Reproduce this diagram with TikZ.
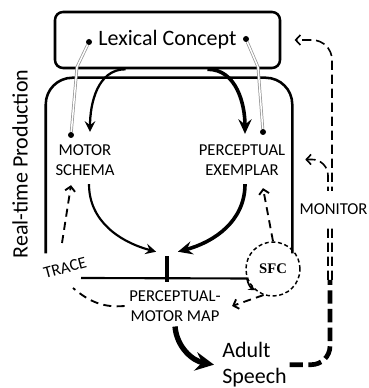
\documentclass[tikz,border=0pt]{standalone}
\usepackage{fontspec}
\setmainfont{Carlito}
\newfontfamily\sfcfont{Liberation Serif}
\usetikzlibrary{arrows.meta}

\begin{document}
\begin{tikzpicture}[x=0.75pt,y=0.75pt,
  big/.style={font=\fontsize{16.5pt}{19.5pt}\selectfont},
  small/.style={font=\fontsize{12.5pt}{15pt}\selectfont,align=center},
  dot/.style={circle,fill,inner sep=0pt,minimum size=4.5pt},
  tie/.style={draw=gray!85,double=white,double distance=1.1pt,line width=0.55pt},
  arr/.style={-{Stealth[length=8pt,width=8pt,inset=3pt]}},
  bigarr/.style={-{Stealth[length=11pt,width=10pt,inset=4pt]}},
  dsh/.style={dash pattern=on 6pt off 4pt,line width=1.4pt},
  mondash/.style={dash pattern=on 7pt off 3.5pt,line width=1.2pt},
  barb/.style={-{Straight Barb[length=3.5pt,width=7.5pt]}}]
\useasboundingbox (0,0) rectangle (368,388);
\node[draw,line width=1.9pt,rounded corners=6pt,minimum width=168.75pt,minimum height=42pt,big] (lex) at (167.5,348) {Lexical Concept};
\node[minimum width=184.5pt,minimum height=131.25pt,inner sep=0pt] (rtp) at (169,222.5) {};
\draw[line width=1.9pt,rounded corners=20pt] (rtp.south west) |- (rtp.north) -| (rtp.south east);
\node[big,rotate=90] (rtplabel) at (20,224) {Real-time Production};
\node[small] (motor) at (85,228) {MOTOR\\SCHEMA};
\node[small] (perc) at (242,228) {PERCEPTUAL\\EXEMPLAR};
\node[small,font=\fontsize{12.5pt}{15.5pt}\selectfont] (map) at (175,82) {PERCEPTUAL-\\MOTOR MAP};
\node[small,rotate=15] (trace) at (65,120) {TRACE};
\node[draw,circle,dash pattern=on 3pt off 2pt,line width=1.1pt,minimum size=40.5pt,inner sep=0pt,font=\sfcfont\bfseries\fontsize{11pt}{13pt}\selectfont] (sfc) at (273,119) {SFC};
\node[fill,minimum width=3.2pt,minimum height=19.5pt,inner sep=0pt] (bar) at (167,119) {};
\node[big,align=left,anchor=north west,inner sep=0pt] (speech) at (222,46) {Adult\\Speech};
\node[dot] (lexl) at (89,346) {};
\node[dot] (lexr) at (246,349) {};
\node[dot] (motd) at (71,253) {};
\node[dot] (perd) at (263,256) {};
\coordinate (mapl) at (81,110);
\coordinate (mon) at (330,108);
\draw[tie] (lexl) -- ++(-12,-25) -- (motd);
\draw[tie] (lexr) -- ++(12,-28) -- (perd);
\draw[arr,line width=1.7pt] ([shift={(-42,0)}]lex.south) to[out=180,in=90] ([shift={(5,8)}]motor.north);
\draw[bigarr,line width=2.7pt] ([shift={(40,0)}]lex.south) to[out=0,in=90] ([shift={(3,6)}]perc.north);
\draw[arr,line width=1.6pt] ([shift={(4,-4)}]motor.south) to[out=-90,in=165] ([shift={(-8.5,4)}]bar.north west);
\draw[bigarr,line width=2.7pt] ([shift={(3,-4)}]perc.south) to[out=-90,in=15] ([shift={(8.5,4)}]bar.north east);
\draw[line width=1.6pt] (mapl) -- (sfc.200);
\draw[line width=1.3pt,-{Stealth[length=5pt,width=5pt]}] (sfc.200) to[bend right=25] (sfc.230);
\draw[dsh] (map.west) to[out=185,in=-40] ([shift={(8,-20)}]trace.center);
\draw[dsh,barb] ([shift={(-3,25)}]trace.center) -- ([shift={(-14,-5)}]motor.south);
\draw[dsh,barb] (sfc.north) -- ([shift={(21,-8)}]perc.south);
\draw[dsh,barb] (sfc.250) -- ([xshift=5pt]map.east);
\draw[line width=4pt,-{Stealth[length=14pt,width=14pt,inset=5pt]}] (map.south) to[out=-85,in=170] ([xshift=-6pt]speech.west);
\draw[line width=3.5pt,dash pattern=on 10pt off 4pt,rounded corners=14pt] ([xshift=2pt]speech.east) -| (mon);
\draw[mondash,barb,rounded corners=15pt] ([xshift=1.5pt]mon) |- ([xshift=10pt]lex.east);
\draw[mondash,barb,rounded corners=12pt] ([xshift=-1.5pt]mon) |- ([shift={(13,6)}]rtp.east);
\node[small,fill=white,inner xsep=1pt,minimum height=27pt] (monlabel) at (333.5,179) {MONITOR};
\end{tikzpicture}
\end{document}
